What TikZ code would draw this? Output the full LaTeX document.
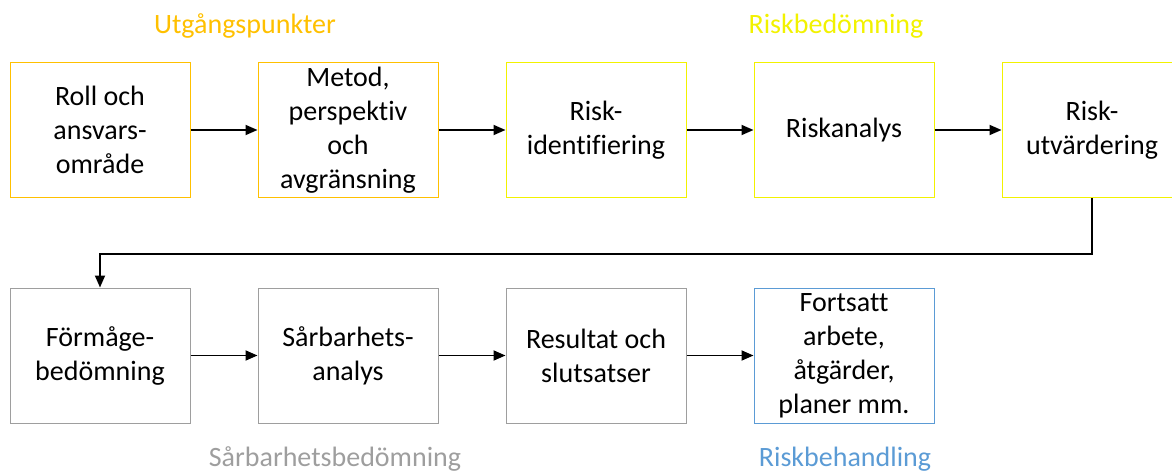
\documentclass[tikz,border=0pt]{standalone}
\usepackage{fontspec}
\setmainfont[Ligatures=NoCommon]{Carlito}
\usetikzlibrary{arrows.meta,positioning}
\definecolor{cOrange}{HTML}{FFC000}
\definecolor{cYellow}{HTML}{F2F200}
\definecolor{cGray}{HTML}{9E9E9E}
\definecolor{cBlue}{HTML}{5B9BD5}
\tikzset{
  stage/.style={draw, line width=1pt, fill=white, minimum width=180pt, minimum height=135pt,
    align=center, inner sep=2pt, font=\fontsize{28}{34}\selectfont, text=black},
  phase/.style={font=\fontsize{28}{32}\selectfont},
  flow/.style={line width=1.8pt, -{Triangle[length=12pt,width=10pt]}}
}
\begin{document}
\begin{tikzpicture}[x=1pt,y=-1pt]
\useasboundingbox (0,0) rectangle (1172,473);
\clip (0,0) rectangle (1172,473);
% phase headings
\node[phase, text=cOrange] (hUt) at (245,26) {Utgångspunkter};
\node[phase, text=cYellow] (hRb) at (836,26) {Riskbedömning};
\node[phase, text=cGray] (hSb) at (335,459) {Sårbarhetsbedömning};
\node[phase, text=cBlue] (hBe) at (845,459) {Riskbehandling};
% top row
\node[stage, draw=cOrange] (roll) at (100,130) {Roll och\\ansvars-\\område};
\node[stage, draw=cOrange] (metod) at (348,130) {Metod,\\perspektiv\\och\\avgränsning};
\node[stage, draw=cYellow] (rid) at (596,130) {Risk-\\identifiering};
\node[stage, draw=cYellow] (ran) at (844,130) {Riskanalys};
\node[stage, draw=cYellow] (rut) at (1092,130) {Risk-\\utvärdering};
% bottom row
\node[stage, draw=cGray] (form) at (100,355.5) {Förmåge-\\bedömning};
\node[stage, draw=cGray] (sarb) at (348,355.5) {Sårbarhets-\\analys};
\node[stage, draw=cGray] (res) at (596,355.5) {Resultat och\\slutsatser};
\node[stage, draw=cBlue] (fort) at (844,355.5) {Fortsatt\\arbete,\\åtgärder,\\planer mm.};
% connectors
\draw[flow] (roll) -- (metod);
\draw[flow] (metod) -- (rid);
\draw[flow] (rid) -- (ran);
\draw[flow] (ran) -- (rut);
\coordinate (turnR) at (1092,254);
\coordinate (turnL) at (100,254);
\draw[flow] (rut.south) -- (turnR) -- (turnL) -- (form.north);
\draw[flow] (form) -- (sarb);
\draw[flow] (sarb) -- (res);
\draw[flow] (res) -- (fort);
\end{tikzpicture}
\end{document}
